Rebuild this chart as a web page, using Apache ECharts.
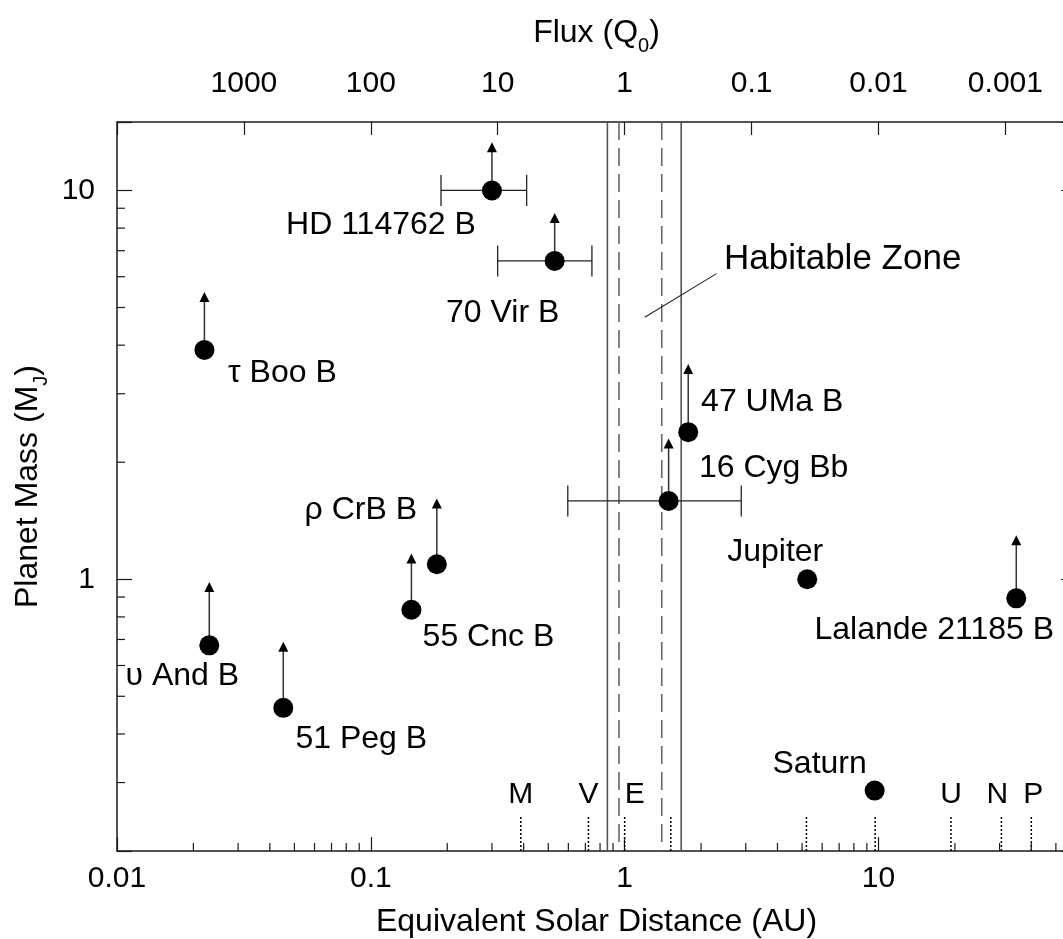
<!DOCTYPE html>
<html>
<head>
<meta charset="utf-8">
<script src="https://cdn.jsdelivr.net/npm/echarts@6/dist/echarts.min.js"></script>
<style>
  html, body { margin: 0; padding: 0; background: #fff; }
  #chart { width: 1063px; height: 939px; }
</style>
</head>
<body>
<div id="chart"></div>
<script>
// extrasolar planets + Jupiter/Saturn: equivalent solar distance (AU) and mass (M_J)
const planetNames = ['HD 114762 B', '70 Vir B', 'τ Boo B', 'υ And B', '51 Peg B', '55 Cnc B',
    'ρ CrB B', '47 UMa B', '16 Cyg Bb', 'Jupiter', 'Lalande 21185 B', 'Saturn'];
const planetDist = [0.30, 0.53, 0.0221, 0.0231, 0.0452, 0.1445, 0.182, 1.78, 1.49, 5.24, 34.9, 9.66];
const planetMass = [10.0, 6.59, 3.89, 0.676, 0.467, 0.835, 1.093, 2.39, 1.59, 1.0, 0.893, 0.286];
// top of the lower-limit arrow (null = no arrow)
const limitTop = [13.3, 8.75, 5.48, 0.984, 0.691, 1.164, 1.613, 3.58, 2.30, null, 1.298, null];

// horizontal error bars
const errNames = ['HD 114762 B', '70 Vir B', '16 Cyg Bb'];
const errLow = [0.189, 0.316, 0.597];
const errHigh = [0.411, 0.743, 2.88];

// habitable zone boundaries (AU)
const hzOuter = [0.855, 1.67];   // solid
const hzInner = [0.95, 1.40];    // dashed
// leader line of the "Habitable Zone" label
const hzLeaderX = [1.20, 2.30];
const hzLeaderY = [4.72, 6.11];

// solar system planets along the bottom
const solarLetters = ['M', 'V', 'E', '', '', '', 'U', 'N', 'P'];
const solarDist = [0.39, 0.72, 1.0, 1.52, 5.2, 9.7, 19.3, 30.5, 40.0];

// axes
const distMin = 0.01, distMax = 60;
const massMin = 0.2, massMax = 15;
const distTickLabels = ['0.01', '0.1', '1', '10'];
const massTickLabels = ['1', '10'];
const fluxTickLabels = ['1000', '100', '10', '1', '0.1', '0.01', '0.001'];
const distMinorTicks = [0.02, 0.03, 0.04, 0.05, 0.06, 0.07, 0.08, 0.09,
    0.2, 0.3, 0.4, 0.5, 0.6, 0.7, 0.8, 0.9, 2, 3, 4, 5, 6, 7, 8, 9, 20, 30, 40, 50];
const massMinorTicks = [0.3, 0.4, 0.5, 0.6, 0.7, 0.8, 0.9, 2, 3, 4, 5, 6, 7, 8, 9];

// label placement (pixels from the dot centre)
const labelOffset = {
    'HD 114762 B': [-111, 35],
    '70 Vir B': [-52, 52],
    'τ Boo B': [78, 23],
    'υ And B': [-27, 31],
    '51 Peg B': [78, 31],
    '55 Cnc B': [77, 27],
    'ρ CrB B': [-76, -54],
    '47 UMa B': [84, -30],
    '16 Cyg Bb': [105, -33],
    'Jupiter': [-32, -27],
    'Lalande 21185 B': [-82, 32],
    'Saturn': [-55, -26]
};
const letterShift = [0, 0, 10, 0, 0, 0, 0, -4, 2];
const DOT = 20;

const FONT = "'Liberation Sans', Arial, Helvetica, sans-serif";
const INK = '#1a1a1a';

function onlyLabels(list) {
    return v => {
        const s = String(+(+v).toPrecision(6));
        return list.indexOf(s) >= 0 ? s : '';
    };
}

const tickLabelStyle = { color: '#000', fontSize: 30, fontFamily: FONT };
const nameStyle = {
    color: '#000', fontSize: 32, fontFamily: FONT,
    rich: { s: { fontSize: 20, fontFamily: FONT, color: '#000', verticalAlign: 'bottom', padding: [0, 0, -7, 0] } }
};

const chart = echarts.init(document.getElementById('chart'));

// label position is relative to the symbol's box (top-left at -DOT/2)
const dots = planetNames.map((n, i) => ({
    name: n,
    value: [planetDist[i], planetMass[i]],
    label: { position: [DOT / 2 + labelOffset[n][0], DOT / 2 + labelOffset[n][1]] }
}));

const arrows = [];
planetNames.forEach((n, i) => {
    if (limitTop[i] != null) arrows.push([planetDist[i], planetMass[i], limitTop[i]]);
});

const errRows = errNames.map((n, i) => {
    const k = planetNames.indexOf(n);
    return [errLow[i], planetMass[k], errHigh[i]];
});

chart.setOption({
    animation: false,
    backgroundColor: '#fff',
    grid: { left: 117, right: -13, top: 122, bottom: 88, outerBoundsMode: 'none', containLabel: false },
    xAxis: [{
        type: 'log',
        position: 'bottom',
        min: distMin,
        max: distMax,
        axisLine: { lineStyle: { color: INK, width: 1.5 } },
        axisTick: { inside: true, length: 14, lineStyle: { color: INK, width: 1.2 } },
        axisLabel: Object.assign({ margin: 13, formatter: onlyLabels(distTickLabels) }, tickLabelStyle),
        splitLine: { show: false },
        name: 'Equivalent Solar Distance (AU)',
        nameLocation: 'middle',
        nameGap: 55,
        nameMoveOverlap: false,
        nameTextStyle: nameStyle
    }, {
        type: 'log',
        position: 'top',
        inverse: true,
        min: 1 / (distMax * distMax),
        max: 1 / (distMin * distMin),
        axisLine: { lineStyle: { color: INK, width: 1.5 } },
        axisTick: { inside: true, length: 13, lineStyle: { color: INK, width: 1.2 } },
        axisLabel: Object.assign({ margin: 23, formatter: onlyLabels(fluxTickLabels) }, tickLabelStyle),
        splitLine: { show: false },
        name: 'Flux (Q{s|0})',
        nameLocation: 'middle',
        nameGap: 73,
        nameMoveOverlap: false,
        nameTextStyle: nameStyle
    }],
    yAxis: [{
        type: 'log',
        position: 'left',
        min: massMin,
        max: massMax,
        axisLine: { lineStyle: { color: INK, width: 1.5 } },
        axisTick: { inside: true, length: 15, lineStyle: { color: INK, width: 1.2 } },
        axisLabel: Object.assign({ margin: 22, formatter: onlyLabels(massTickLabels) }, tickLabelStyle),
        splitLine: { show: false },
        name: 'Planet Mass (M{s|J})',
        nameLocation: 'middle',
        nameGap: 73,
        nameMoveOverlap: false,
        nameTextStyle: nameStyle
    }, {
        type: 'log',
        position: 'right',
        min: massMin,
        max: massMax,
        axisLine: { lineStyle: { color: INK, width: 1.5 } },
        axisTick: { inside: true, length: 15, lineStyle: { color: INK, width: 1.2 } },
        axisLabel: { show: false },
        splitLine: { show: false }
    }],
    series: [
        // habitable zone boundaries
        {
            type: 'custom',
            z: 1,
            silent: true,
            data: hzOuter.map(d => [d, massMin, 0]).concat(hzInner.map(d => [d, massMin, 1])),
            encode: { x: 0, y: 1 },
            renderItem: (params, api) => {
                const top = api.coord([api.value(0), massMax]);
                const bot = api.coord([api.value(0), massMin]);
                const dashed = api.value(2) === 1;
                return {
                    type: 'line',
                    shape: { x1: top[0], y1: top[1], x2: bot[0], y2: bot[1] },
                    style: { stroke: dashed ? '#666' : '#555', lineWidth: 1.6, lineDash: dashed ? [18, 8] : null }
                };
            }
        },
        // solar system positions along the bottom
        {
            type: 'custom',
            z: 2,
            silent: true,
            data: solarDist.map(d => [d, massMin]),
            encode: { x: 0, y: 1 },
            renderItem: (params, api) => {
                const p = api.coord([api.value(0), massMin]);
                const i = params.dataIndex;
                return {
                    type: 'group',
                    children: [{
                        type: 'line',
                        shape: { x1: p[0], y1: p[1], x2: p[0], y2: p[1] - 35 },
                        style: { stroke: '#000', lineWidth: 1.5, lineDash: [2, 2] }
                    }, {
                        type: 'text',
                        style: {
                            text: solarLetters[i], x: p[0] + letterShift[i], y: p[1] - 56,
                            align: 'center', verticalAlign: 'middle', textAlign: 'center', textVerticalAlign: 'middle',
                            fontSize: 30, fontFamily: FONT, fill: '#000'
                        }
                    }]
                };
            }
        },
        // minor ticks on the distance axis
        {
            type: 'custom',
            z: 3,
            silent: true,
            data: distMinorTicks.map(d => [d, massMin]),
            encode: { x: 0, y: 1 },
            renderItem: (params, api) => {
                const p = api.coord([api.value(0), massMin]);
                return {
                    type: 'line',
                    shape: { x1: p[0], y1: p[1], x2: p[0], y2: p[1] - 8 },
                    style: { stroke: INK, lineWidth: 1.2 }
                };
            }
        },
        // minor ticks on both mass axes
        {
            type: 'custom',
            z: 3,
            silent: true,
            data: massMinorTicks.map(m => [distMin, m]),
            encode: { x: 0, y: 1 },
            renderItem: (params, api) => {
                const l = api.coord([distMin, api.value(1)]);
                const r = api.coord([distMax, api.value(1)]);
                return {
                    type: 'group',
                    children: [{
                        type: 'line',
                        shape: { x1: l[0], y1: l[1], x2: l[0] + 8, y2: l[1] },
                        style: { stroke: INK, lineWidth: 1.2 }
                    }, {
                        type: 'line',
                        shape: { x1: r[0], y1: r[1], x2: r[0] - 8, y2: r[1] },
                        style: { stroke: INK, lineWidth: 1.2 }
                    }]
                };
            }
        },
        // error bars
        {
            type: 'custom',
            z: 4,
            silent: true,
            data: errRows,
            encode: { x: [0, 2], y: 1 },
            renderItem: (params, api) => {
                const a = api.coord([api.value(0), api.value(1)]);
                const b = api.coord([api.value(2), api.value(1)]);
                const st = { stroke: '#222', lineWidth: 1.3 };
                return {
                    type: 'group',
                    children: [
                        { type: 'line', shape: { x1: a[0], y1: a[1], x2: b[0], y2: b[1] }, style: st },
                        { type: 'line', shape: { x1: a[0], y1: a[1] - 15.5, x2: a[0], y2: a[1] + 15.5 }, style: st },
                        { type: 'line', shape: { x1: b[0], y1: b[1] - 15.5, x2: b[0], y2: b[1] + 15.5 }, style: st }
                    ]
                };
            }
        },
        // lower-limit arrows
        {
            type: 'custom',
            z: 4,
            silent: true,
            data: arrows,
            encode: { x: 0, y: [1, 2] },
            renderItem: (params, api) => {
                const p0 = api.coord([api.value(0), api.value(1)]);
                const p1 = api.coord([api.value(0), api.value(2)]);
                return {
                    type: 'group',
                    children: [{
                        type: 'line',
                        shape: { x1: p0[0], y1: p0[1], x2: p1[0], y2: p1[1] + 9 },
                        style: { stroke: '#333', lineWidth: 1.5 }
                    }, {
                        type: 'polygon',
                        shape: { points: [[p1[0] - 5, p1[1] + 10], [p1[0] + 5, p1[1] + 10], [p1[0], p1[1]]] },
                        style: { fill: '#000' }
                    }]
                };
            }
        },
        // habitable zone leader line
        {
            type: 'line',
            z: 4,
            silent: true,
            data: hzLeaderX.map((x, i) => [x, hzLeaderY[i]]),
            symbol: 'none',
            lineStyle: { color: '#222', width: 1.1 }
        },
        {
            type: 'scatter',
            z: 5,
            silent: true,
            data: [[hzLeaderX[1], hzLeaderY[1]]],
            symbolSize: 1,
            itemStyle: { color: 'rgba(0,0,0,0)', opacity: 1 },
            label: {
                show: true,
                position: 'right',
                distance: 7,
                offset: [0, -14],
                formatter: 'Habitable Zone',
                color: '#000',
                fontSize: 35,
                fontFamily: FONT
            }
        },
        // planets
        {
            type: 'scatter',
            z: 6,
            silent: true,
            data: dots,
            symbol: 'circle',
            symbolSize: DOT,
            itemStyle: { color: '#000', opacity: 1 },
            label: {
                show: true,
                formatter: '{b}',
                align: 'center',
                verticalAlign: 'middle',
                color: '#000',
                fontSize: 32,
                fontFamily: FONT
            },
            labelLayout: { hideOverlap: false }
        }
    ]
});
</script>
</body>
</html>
